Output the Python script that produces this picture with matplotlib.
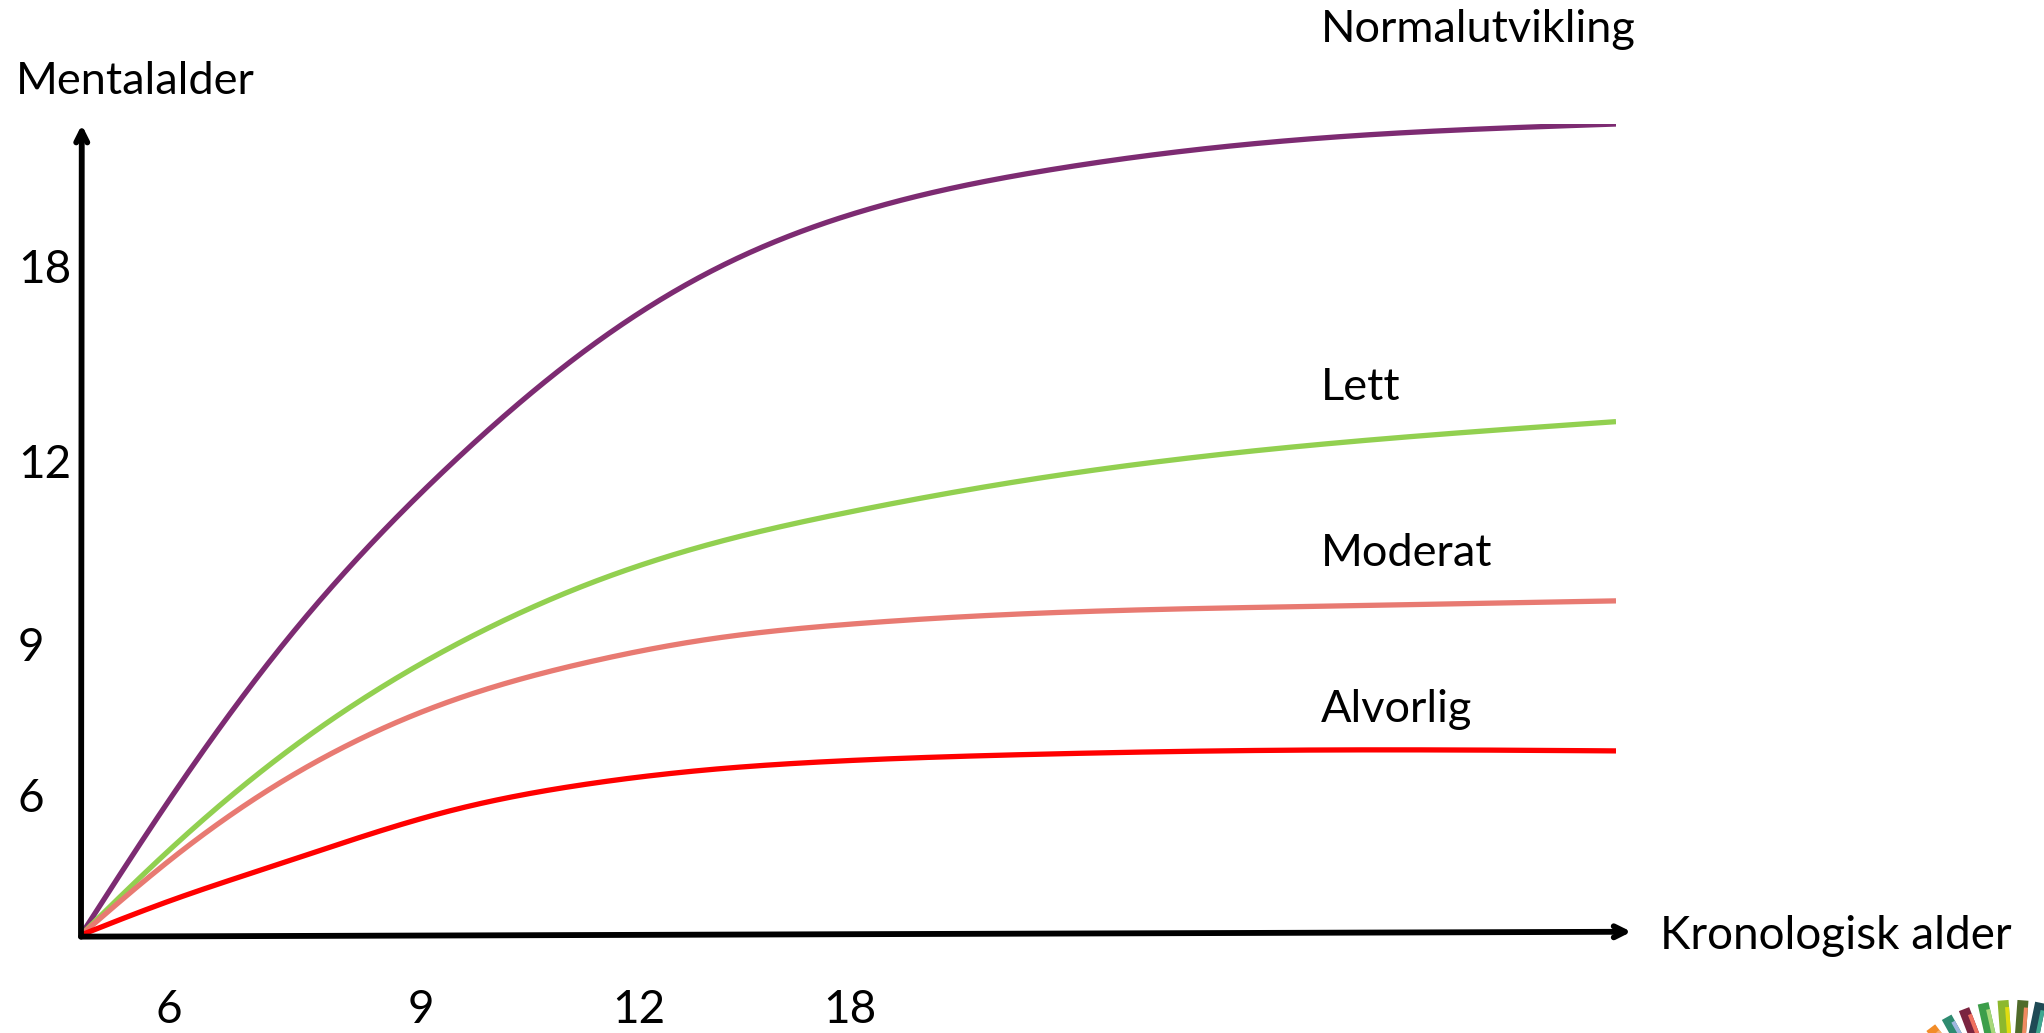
import numpy as np
import matplotlib
matplotlib.use("Agg")
import matplotlib.pyplot as plt
from matplotlib.patches import Polygon

plt.rcParams['font.family'] = ['Lato', 'DejaVu Sans']

# ---- data (arbitrary units, x: chronological, y: mental level) ----
x_pts = [0, 5.77, 12.99, 24.02, 32.94, 41.00, 49.92, 62.65, 79.63, 100]
normal = [0, 16.7, 35.4, 57.9, 72.2, 81.8, 88.7, 94.2, 98.1, 100]
lett = [0, 10.5, 22.0, 35.4, 43.2, 48.2, 52.1, 56.4, 60.3, 63.3]
moderat = [0, 9.2, 18.8, 28.8, 33.6, 36.5, 38.3, 39.7, 40.5, 41.2]
alvorlig = [0, 4.2, 8.8, 15.3, 18.6, 20.4, 21.5, 22.3, 22.8, 22.7]

series_names = ["Normalutvikling", "Lett", "Moderat", "Alvorlig"]
series_colors = ["#7D2B72", "#92D050", "#E87A72", "#FF0000"]

y_tick_labels = ["18", "12", "9", "6"]
x_tick_labels = ["6", "9", "12", "18"]

W, H = 2044, 1033


def natural_spline(x, y, xs):
    x = np.asarray(x, float); y = np.asarray(y, float)
    n = len(x); h = np.diff(x)
    A = np.zeros((n, n)); b = np.zeros(n)
    A[0, 0] = 1; A[-1, -1] = 1
    for i in range(1, n - 1):
        A[i, i - 1] = h[i - 1]
        A[i, i] = 2 * (h[i - 1] + h[i])
        A[i, i + 1] = h[i]
        b[i] = 3 * ((y[i + 1] - y[i]) / h[i] - (y[i] - y[i - 1]) / h[i - 1])
    c = np.linalg.solve(A, b)
    bb = (y[1:] - y[:-1]) / h - h * (2 * c[:-1] + c[1:]) / 3
    d = (c[1:] - c[:-1]) / (3 * h)
    idx = np.clip(np.searchsorted(x, xs) - 1, 0, n - 2)
    t = xs - x[idx]
    return y[idx] + bb[idx] * t + c[idx] * t**2 + d[idx] * t**3


fig = plt.figure(figsize=(W / 100, H / 100), dpi=100)
fig.patch.set_facecolor("white")

# main axes: origin at (81, 935) px, top at 124 px, curve end at 1616 px
ax = fig.add_axes([81 / W, 1 - 935 / H, (1616 - 81) / W, (935 - 124) / H])
ax.set_xlim(0, 100)
ax.set_ylim(0, 100)
ax.axis("off")

xs = np.linspace(0, 100, 600)
for vals, col in zip([normal, lett, moderat, alvorlig], series_colors):
    ax.plot(xs, natural_spline(x_pts, vals, xs), color=col, lw=3.8,
            solid_capstyle="butt", zorder=3)

# axes arrows
akw = dict(arrowstyle="->,head_length=0.8,head_width=0.4",
           lw=4.2, color="black", shrinkA=0, shrinkB=0)
ax.annotate("", xy=(101.0, 0.4), xytext=(0, -0.2), xycoords="data",
            annotation_clip=False, arrowprops=akw, zorder=4)
ax.annotate("", xy=(0.05, 99.9), xytext=(0, -0.2), xycoords="data",
            annotation_clip=False, arrowprops=akw, zorder=4)


def ftext(x, y, s, ha="left", size=32.5):
    fig.text(x / W, 1 - y / H, s, ha=ha, va="center", fontsize=size,
             color="black")


# series labels
label_pos = [(1321, 29), (1321, 388), (1321, 554), (1321, 710)]
for name, (px, py) in zip(series_names, label_pos):
    ftext(px, py, name)

ftext(16, 81, "Mentalalder")
ftext(1660, 936, "Kronologisk alder", size=33)

# tick labels
for lab, py in zip(y_tick_labels, [270, 465, 648, 799]):
    ftext(18, py, lab, size=33)
for lab, px in zip(x_tick_labels, [169, 421, 639, 850]):
    ftext(px, 1010, lab, ha="center", size=33)

# decorative partial logo in bottom-right corner
ov = fig.add_axes([0, 0, 1, 1], zorder=-1)
ov.set_xlim(0, W); ov.set_ylim(H, 0); ov.axis("off")
cx, cy = 2013, 1136
bars = [(-127.2, "#F28C28", "#F5B070"), (-119.2, "#2E8B70", "#9FB7E0"),
        (-111.1, "#7B2440", "#F07060"), (-102.7, "#3C9E4A", "#A8D878"),
        (-94.2, "#8DB82E", "#E0DC10"), (-85.8, "#4F6B2A", "#F08A60"),
        (-78.3, "#1F4A55", "#3FA890")]


def bar_poly(a, r0, r1, w0, w1):
    ux, uy = np.cos(a), np.sin(a)
    px_, py_ = -uy, ux
    return [(cx + r0 * ux + w0 * px_, cy + r0 * uy + w0 * py_),
            (cx + r1 * ux + w0 * px_, cy + r1 * uy + w0 * py_),
            (cx + r1 * ux + w1 * px_, cy + r1 * uy + w1 * py_),
            (cx + r0 * ux + w1 * px_, cy + r0 * uy + w1 * py_)]


for ang, col, col2 in bars:
    a = np.deg2rad(ang)
    ov.add_patch(Polygon(bar_poly(a, 80, 136, -5.5, 5.5), closed=True,
                         color=col, lw=0))
    ov.add_patch(Polygon(bar_poly(a, 80, 129, 1.5, 5.5), closed=True,
                         color=col2, lw=0))

fig.savefig("out.png", dpi=100, facecolor="white")
